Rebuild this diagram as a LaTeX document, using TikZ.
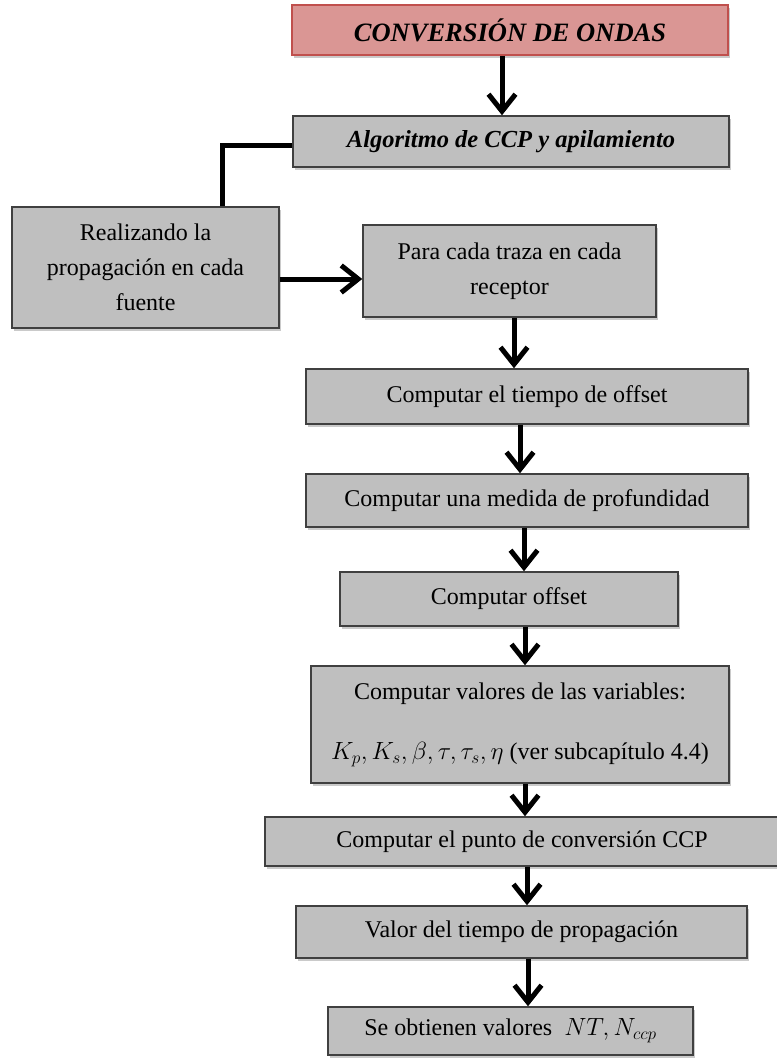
\documentclass[tikz,border=0pt]{standalone}
\usepackage{fontspec}
\setmainfont{Liberation Serif}
\usetikzlibrary{arrows.meta,shadows}

\definecolor{cajagris}{HTML}{BFBFBF}
\definecolor{bordegris}{HTML}{404040}
\definecolor{cajaroja}{HTML}{DA9694}
\definecolor{borderoja}{HTML}{C0504D}

\tikzset{
  caja/.style={draw=bordegris,fill=cajagris,line width=1.5pt,
    drop shadow={shadow xshift=2pt,shadow yshift=-3pt,opacity=0.35,fill=black!60},
    inner sep=2pt,align=center,font=\fontsize{24}{35}\selectfont},
  titulo/.style={caja,draw=borderoja,fill=cajaroja,
    font=\fontsize{26.5}{30}\selectfont\bfseries\itshape},
  flecha/.style={line width=5pt,-{Straight Barb[length=17pt,width=27pt]}},
  linea/.style={line width=5pt,line join=miter}
}

\begin{document}
\begin{tikzpicture}[x=1pt,y=-1pt]
\useasboundingbox (0,0) rectangle (776,1059);

\node[titulo,minimum width=436pt,minimum height=50pt] (conv) at (510,30) {CONVERSIÓN DE ONDAS};
\node[caja,minimum width=436pt,minimum height=51pt,font=\fontsize{24.5}{29}\selectfont\bfseries\itshape] (algo) at (511,141.5) {Algoritmo de CCP y apilamiento};
\node[caja,minimum width=267pt,minimum height=121pt] (fuente) at (145.5,267.5) {Realizando la\\propagación en cada\\fuente};
\node[caja,minimum width=293pt,minimum height=92pt] (traza) at (509.5,271) {Para cada traza en cada\\receptor};
\node[caja,minimum width=442pt,minimum height=55pt] (tiempo) at (527,396.5) {Computar el tiempo de offset};
\node[caja,minimum width=442pt,minimum height=53pt] (medida) at (527,500.5) {Computar una medida de profundidad};
\node[caja,minimum width=338pt,minimum height=54pt] (offset) at (509,599) {Computar offset};
\node[caja,minimum width=418pt,minimum height=117pt] (vars) at (520,724.5) {Computar valores de las variables:\\[25pt]$K_p,K_s,\beta,\tau,\tau_s,\eta$ (ver subcapítulo 4.4)};
\node[caja,minimum width=514pt,minimum height=49pt] (punto) at (522,841.5) {Computar el punto de conversión CCP};
\node[caja,minimum width=451pt,minimum height=52pt] (valor) at (521.5,932) {Valor del tiempo de propagación};
\node[caja,minimum width=365pt,minimum height=48pt] (result) at (510.5,1031) {Se obtienen valores\ \ $NT,N_{ccp}$};

% conectores
\draw[flecha] ([xshift=-8pt]conv.south) -- ([xshift=-8pt]conv.south |- algo.north);
\draw[linea] ([yshift=-4.5pt]algo.west) -| ([xshift=76.5pt]fuente.north);
\draw[flecha] ([yshift=-11.5pt]fuente.east) -- ([yshift=-11.5pt]fuente.east -| traza.west);
\draw[flecha] ([xshift=4.5pt]traza.south) -- ([xshift=4.5pt]traza.south |- tiempo.north);
\draw[flecha] ([xshift=-7pt]tiempo.south) -- ([xshift=-7pt]tiempo.south |- medida.north);
\draw[flecha] ([xshift=-3pt]medida.south) -- ([xshift=-3pt]medida.south |- offset.north);
\draw[flecha] ([xshift=16pt]offset.south) -- ([xshift=16pt]offset.south |- vars.north);
\draw[flecha] ([xshift=5pt]vars.south) -- ([xshift=5pt]vars.south |- punto.north);
\draw[flecha] ([xshift=5pt]punto.south) -- ([xshift=5pt]punto.south |- valor.north);
\draw[flecha] ([xshift=6.5pt]valor.south) -- ([xshift=6.5pt]valor.south |- result.north);

\end{tikzpicture}
\end{document}
